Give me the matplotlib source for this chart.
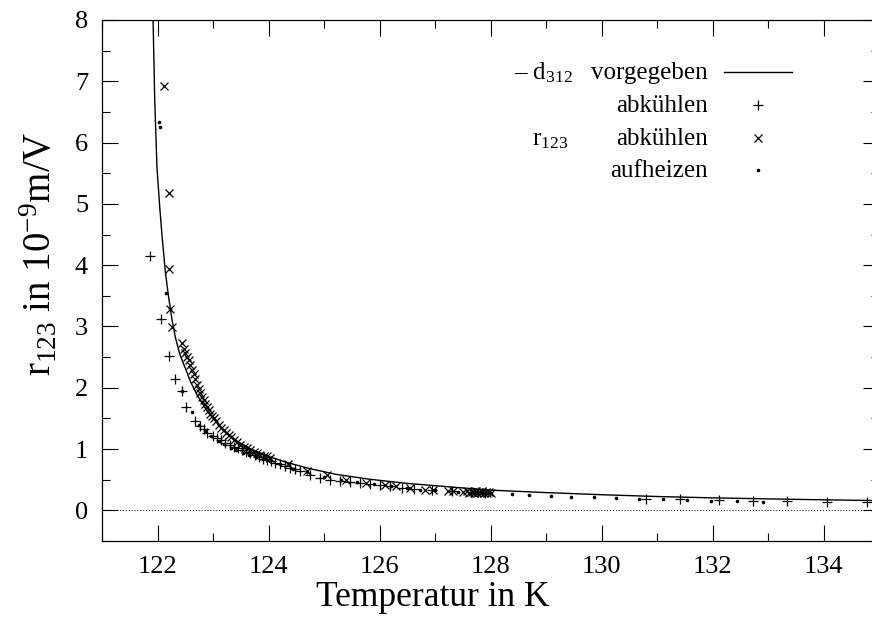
import matplotlib
matplotlib.use("Agg")
import matplotlib.pyplot as plt
from matplotlib.ticker import MultipleLocator

plt.rcParams["font.family"] = ["Liberation Serif", "DejaVu Serif"]
plt.rcParams["mathtext.fontset"] = "custom"
plt.rcParams["mathtext.rm"] = "Liberation Serif"
plt.rcParams["mathtext.it"] = "Liberation Serif:italic"

# d312 vorgegeben (solid curve)
curve_T = [121.92, 121.95, 121.99, 122.04, 122.08, 122.14, 122.20, 122.26, 122.32,
           122.40, 122.50, 122.60, 122.71, 122.85, 123.00, 123.20, 123.45, 123.70,
           124.00, 124.30, 124.70, 125.20, 125.80, 126.50, 127.30, 128.00, 129.00,
           130.00, 131.00, 132.00, 133.00, 134.00, 135.00]
curve_r = [8.00, 6.70, 5.60, 4.95, 4.50, 3.90, 3.48, 3.12, 2.83,
           2.55, 2.32, 2.09, 1.89, 1.68, 1.50, 1.30, 1.12, 0.99,
           0.88, 0.79, 0.69, 0.59, 0.51, 0.44, 0.38, 0.33, 0.29,
           0.255, 0.226, 0.204, 0.187, 0.172, 0.159]

# abkühlen (+)
plus_T = [121.87, 122.06, 122.21, 122.32, 122.44, 122.52, 122.68, 122.77, 122.83,
          122.90, 123.00, 123.07, 123.15, 123.22, 123.30, 123.37, 123.45, 123.52,
          123.60, 123.67, 123.75, 123.82, 123.90, 123.97, 124.05, 124.12, 124.21,
          124.30, 124.39, 124.48, 124.57, 124.75, 124.93, 125.11, 125.29, 125.47,
          125.65, 125.83, 126.01, 126.19, 126.40, 126.62, 126.95, 127.30, 127.65,
          127.90, 130.81, 131.42, 132.11, 132.73, 133.34, 134.06, 134.79]
plus_r = [4.15, 3.13, 2.52, 2.15, 1.95, 1.68, 1.46, 1.38, 1.32,
          1.27, 1.22, 1.18, 1.14, 1.10, 1.07, 1.04, 1.01, 0.98,
          0.95, 0.93, 0.90, 0.87, 0.84, 0.82, 0.80, 0.78, 0.75,
          0.72, 0.69, 0.67, 0.64, 0.58, 0.53, 0.50, 0.48, 0.46,
          0.44, 0.43, 0.41, 0.40, 0.37, 0.35, 0.33, 0.32, 0.30,
          0.29, 0.19, 0.18, 0.17, 0.15, 0.15, 0.14, 0.13]

# abkühlen (x)
cross_T = [122.11, 122.21, 122.21, 122.22, 122.27, 122.45, 122.48, 122.50, 122.53,
           122.56, 122.59, 122.62, 122.65, 122.68, 122.71, 122.74, 122.77, 122.80,
           122.83, 122.86, 122.89, 122.92, 122.95, 122.98, 123.01, 123.05, 123.10,
           123.14, 123.19, 123.23, 123.28, 123.32, 123.37, 123.43, 123.49, 123.55,
           123.61, 123.67, 123.73, 123.79, 123.85, 123.91, 123.97, 124.03, 124.35,
           124.70, 125.05, 125.40, 125.75, 126.10, 126.30, 126.55, 126.82, 126.97,
           127.24, 127.33, 127.51, 127.58, 127.62, 127.66, 127.70, 127.73, 127.76,
           127.79, 127.82, 127.85, 127.88, 127.91, 127.94, 127.97, 128.01]
cross_r = [6.92, 5.17, 3.93, 3.28, 2.99, 2.73, 2.64, 2.56, 2.50,
           2.45, 2.37, 2.29, 2.22, 2.14, 2.05, 1.98, 1.91, 1.85,
           1.80, 1.74, 1.69, 1.63, 1.58, 1.54, 1.50, 1.45, 1.39,
           1.35, 1.31, 1.27, 1.23, 1.19, 1.15, 1.11, 1.07, 1.04,
           1.01, 0.98, 0.96, 0.93, 0.90, 0.89, 0.88, 0.85, 0.76,
           0.65, 0.57, 0.50, 0.45, 0.41, 0.39, 0.36, 0.34, 0.33,
           0.31, 0.31, 0.30, 0.31, 0.29, 0.30, 0.28, 0.31, 0.29,
           0.30, 0.28, 0.31, 0.29, 0.30, 0.28, 0.30, 0.29]

# aufheizen (dots)
dot_T = [122.02, 122.05, 122.16, 122.22, 122.44, 122.62, 122.74, 122.86, 122.97,
         123.10, 123.20, 123.32, 123.42, 123.54, 123.64, 123.78, 123.90, 124.02,
         124.20, 124.45, 124.70, 125.00, 125.30, 125.60, 125.90, 126.20, 126.50,
         126.73, 127.00, 127.42, 127.70, 128.00, 128.38, 128.70, 129.09, 129.45,
         129.87, 130.26, 130.68, 131.11, 131.54, 131.98, 132.45, 132.91]
dot_r = [6.34, 6.25, 3.55, 3.28, 1.94, 1.61, 1.40, 1.29, 1.21,
         1.13, 1.08, 1.02, 0.98, 0.94, 0.91, 0.87, 0.83, 0.80,
         0.75, 0.68, 0.62, 0.55, 0.50, 0.46, 0.43, 0.40, 0.37,
         0.34, 0.33, 0.30, 0.29, 0.28, 0.26, 0.25, 0.235, 0.22,
         0.21, 0.20, 0.19, 0.18, 0.17, 0.16, 0.15, 0.14]

fig = plt.figure(figsize=(8.72, 6.19), dpi=100)
# right border of the frame sits just outside the picture, like the original
ax = fig.add_axes([102 / 872, 78 / 619, 777 / 872, 521 / 619])

ax.axhline(0, color="k", lw=0.7, ls=(0, (1, 2)))
ax.plot(curve_T, curve_r, color="k", lw=1.0)
ax.plot(plus_T, plus_r, ls="none", marker="+", ms=6.5, mew=0.9, color="k")
ax.plot(cross_T, cross_r, ls="none", marker="x", ms=5.5, mew=0.9, color="k")
ax.plot(dot_T, dot_r, ls="none", marker="o", ms=2.6, mew=0, color="k")

ax.set_xlim(121, 135)
ax.set_ylim(-0.5, 8)
ax.xaxis.set_major_locator(MultipleLocator(2))
ax.xaxis.set_minor_locator(MultipleLocator(1))
ax.yaxis.set_major_locator(MultipleLocator(1))
ax.yaxis.set_minor_locator(MultipleLocator(0.5))
ax.tick_params(which="both", direction="in", top=True, right=True,
               width=0.8, labelsize=19)
ax.tick_params(which="major", length=11.5)
ax.tick_params(which="minor", length=5.8)
ax.tick_params(axis="x", pad=11)
ax.tick_params(axis="y", pad=10)
for s in ax.spines.values():
    s.set_linewidth(0.9)

# gnuplot placed the axis titles a bit off centre
ax.set_xlabel("Temperatur in K", fontsize=25.5)
ax.xaxis.set_label_coords(0.426, -0.077)
ax.set_ylabel(r"r$_{123}$ in 10$^{-9}$m/V", fontsize=28)
ax.yaxis.set_label_coords(-0.054, 0.552)

# key, gnuplot style: right aligned titles, samples on the right
lx = 0.780
rows = [0.886, 0.823, 0.760, 0.698]
kw = dict(transform=ax.transAxes, ha="right", va="baseline", fontsize=18)
ax.text(lx, rows[0], "vorgegeben", **kw)
ax.text(lx, rows[1], "abkühlen", **kw)
ax.text(lx, rows[2], "abkühlen", **kw)
ax.text(lx, rows[3], "aufheizen", **kw)
ax.text(0.606, rows[0], r"– d$_{312}$", **kw)
ax.text(0.600, rows[2], r"r$_{123}$", **kw)

ax.plot([0.8005, 0.888], [0.900, 0.900], transform=ax.transAxes, color="k", lw=1.0)
ax.plot([0.844], [0.837], transform=ax.transAxes, marker="+", ms=6.5, mew=0.9, color="k")
ax.plot([0.844], [0.774], transform=ax.transAxes, marker="x", ms=5.5, mew=0.9, color="k")
ax.plot([0.844], [0.712], transform=ax.transAxes, marker="o", ms=2.6, mew=0, color="k")

fig.savefig("out.png", dpi=100)
